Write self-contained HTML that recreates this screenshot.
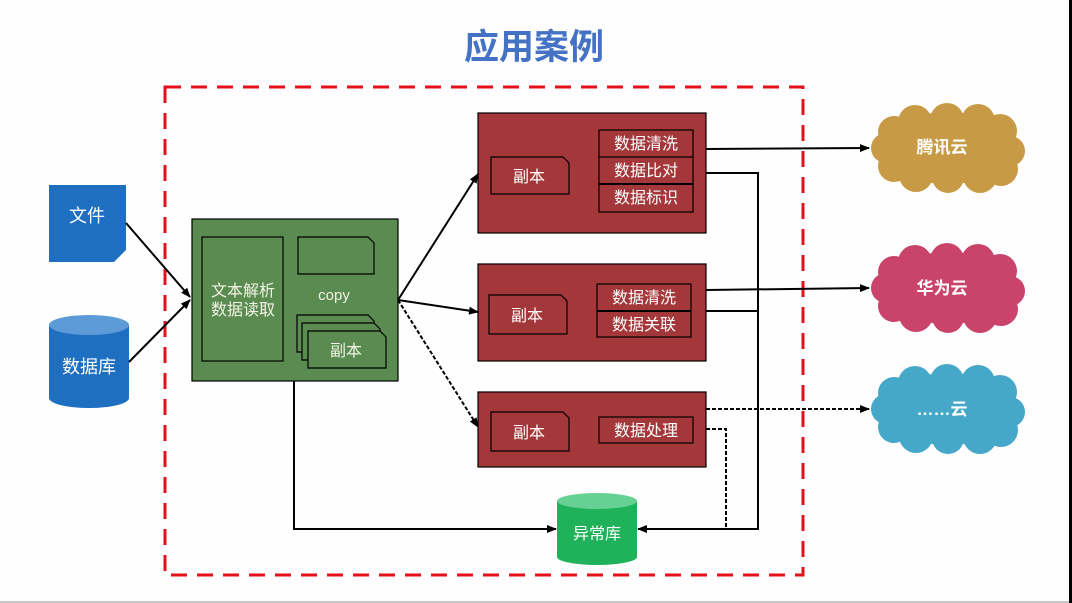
<!DOCTYPE html>
<html><head><meta charset="utf-8"><style>
html,body{margin:0;padding:0;background:#fff;}
svg{display:block;}
text{font-family:"Liberation Sans","Noto Sans CJK SC",sans-serif;}
</style></head><body>
<svg width="1072" height="603" viewBox="0 0 1072 603" xmlns="http://www.w3.org/2000/svg">
<defs>
<marker id="ah" markerUnits="userSpaceOnUse" markerWidth="10" markerHeight="8" refX="9" refY="4" orient="auto">
<path d="M0,0 L10,4 L0,8 Z" fill="#000"/>
</marker>
<g id="cloud">
<ellipse cx="78" cy="45" rx="68" ry="36"/>
<circle cx="45" cy="19" r="17"/>
<circle cx="77" cy="17" r="17"/>
<circle cx="108" cy="18" r="17"/>
<circle cx="130" cy="28" r="17"/>
<circle cx="140" cy="48" r="15"/>
<circle cx="131" cy="66" r="17"/>
<circle cx="110" cy="73" r="17"/>
<circle cx="78" cy="74" r="16"/>
<circle cx="46" cy="72" r="17"/>
<circle cx="24" cy="63" r="16"/>
<circle cx="16" cy="45" r="15"/>
<circle cx="24" cy="29" r="16"/>
</g>
</defs>
<rect x="0" y="0" width="1072" height="603" fill="#fefefe"/>
<rect x="1069" y="0" width="3" height="603" fill="#000"/>
<rect x="0" y="601" width="1069" height="2" fill="#c8c8c8"/>

<!-- title -->
<text x="534" y="59" text-anchor="middle" font-size="35" font-weight="bold" fill="#4472c4">应用案例</text>

<!-- red dashed box -->
<rect x="165" y="87" width="638" height="488" fill="none" stroke="#e3101c" stroke-width="3" stroke-dasharray="16 10"/>

<!-- file -->
<path d="M49,185 H126 V250 L114,262 H49 Z" fill="#1f6fc0"/>
<text x="87" y="222" text-anchor="middle" font-size="18" fill="#fff">文件</text>

<!-- database -->
<path d="M49,325 V398 A40,10 0 0 0 129,398 V325 Z" fill="#1f6fc0"/>
<ellipse cx="89" cy="325" rx="40" ry="10" fill="#5d9ad8"/>
<text x="89" y="373" text-anchor="middle" font-size="18" fill="#fff">数据库</text>

<!-- green box -->
<rect x="192" y="219" width="206" height="162" fill="#5a8b50" stroke="#000" stroke-width="1.2"/>
<rect x="202" y="237" width="81" height="124" fill="none" stroke="#000" stroke-width="1.2"/>
<text x="243" y="296" text-anchor="middle" font-size="16" fill="#f3f3e6">文本解析</text>
<text x="243" y="315" text-anchor="middle" font-size="16" fill="#f3f3e6">数据读取</text>
<path d="M298,237 H368 L374,243 V274 H298 Z" fill="none" stroke="#000" stroke-width="1.2"/>
<text x="334" y="300" text-anchor="middle" font-size="15" fill="#f3f3e6">copy</text>
<path d="M297,315 H368 L374,321 V352 H297 Z" fill="#5a8b50" stroke="#000" stroke-width="1.2"/>
<path d="M302,323 H374 L380,329 V360 H302 Z" fill="#5a8b50" stroke="#000" stroke-width="1.2"/>
<path d="M308,331 H380 L386,337 V368 H308 Z" fill="#5a8b50" stroke="#000" stroke-width="1.2"/>
<text x="346" y="356" text-anchor="middle" font-size="16" fill="#f3f3e6">副本</text>

<!-- red box 1 -->
<rect x="478" y="113" width="228" height="120" fill="#a4373a" stroke="#000" stroke-width="1.2"/>
<path d="M491,157 H563 L569,163 V194 H491 Z" fill="none" stroke="#000" stroke-width="1.2"/>
<text x="529" y="182" text-anchor="middle" font-size="16" fill="#fff">副本</text>
<rect x="599" y="130" width="94" height="82" fill="none" stroke="#000" stroke-width="1.2"/>
<line x1="599" y1="157" x2="693" y2="157" stroke="#000" stroke-width="1.2"/>
<line x1="599" y1="184" x2="693" y2="184" stroke="#000" stroke-width="2"/>
<text x="646" y="149" text-anchor="middle" font-size="16" fill="#fff">数据清洗</text>
<text x="646" y="176" text-anchor="middle" font-size="16" fill="#fff">数据比对</text>
<text x="646" y="203" text-anchor="middle" font-size="16" fill="#fff">数据标识</text>

<!-- red box 2 -->
<rect x="478" y="264" width="228" height="97" fill="#a4373a" stroke="#000" stroke-width="1.2"/>
<path d="M489,295 H561 L567,301 V334 H489 Z" fill="none" stroke="#000" stroke-width="1.2"/>
<text x="527" y="321" text-anchor="middle" font-size="16" fill="#fff">副本</text>
<rect x="597" y="284" width="94" height="53" fill="none" stroke="#000" stroke-width="1.2"/>
<line x1="597" y1="311" x2="691" y2="311" stroke="#000" stroke-width="2"/>
<text x="644" y="303" text-anchor="middle" font-size="16" fill="#fff">数据清洗</text>
<text x="644" y="330" text-anchor="middle" font-size="16" fill="#fff">数据关联</text>

<!-- red box 3 -->
<rect x="478" y="392" width="228" height="75" fill="#a4373a" stroke="#000" stroke-width="1.2"/>
<path d="M491,412 H563 L569,418 V451 H491 Z" fill="none" stroke="#000" stroke-width="1.2"/>
<text x="529" y="438" text-anchor="middle" font-size="16" fill="#fff">副本</text>
<rect x="599" y="417" width="94" height="26" fill="none" stroke="#000" stroke-width="1.2"/>
<text x="646" y="436" text-anchor="middle" font-size="16" fill="#fff">数据处理</text>

<!-- 异常库 -->
<path d="M557,501 V557 A40,8 0 0 0 637,557 V501 Z" fill="#1fb25a"/>
<ellipse cx="597" cy="501" rx="40" ry="8" fill="#66d193"/>
<text x="597" y="539" text-anchor="middle" font-size="16" fill="#fff">异常库</text>

<!-- clouds -->
<g transform="translate(870,103)" fill="#c99a45"><use href="#cloud"/></g>
<text x="942" y="153" text-anchor="middle" font-size="17" font-weight="bold" fill="#fff">腾讯云</text>
<g transform="translate(870,243)" fill="#c9436b"><use href="#cloud"/></g>
<text x="942" y="294" text-anchor="middle" font-size="17" font-weight="bold" fill="#fff">华为云</text>
<g transform="translate(870,364)" fill="#46a8c8"><use href="#cloud"/></g>
<text x="942" y="415" text-anchor="middle" font-size="17" font-weight="bold" fill="#fff">……云</text>

<!-- connectors -->
<g stroke="#000" stroke-width="2" fill="none">
<line x1="126" y1="223" x2="190" y2="297" marker-end="url(#ah)"/>
<line x1="129" y1="362" x2="190" y2="300" marker-end="url(#ah)"/>
<line x1="398" y1="300" x2="478" y2="174" marker-end="url(#ah)"/>
<line x1="398" y1="300" x2="478" y2="312" marker-end="url(#ah)"/>
<line x1="398" y1="300" x2="478" y2="427" stroke-dasharray="4 2" marker-end="url(#ah)"/>
<polyline points="294,381 294,529 556,529" marker-end="url(#ah)"/>
<line x1="706" y1="149" x2="869" y2="148" marker-end="url(#ah)"/>
<polyline points="706,173 758,173 758,529 638,529" marker-end="url(#ah)"/>
<line x1="706" y1="290" x2="869" y2="288" marker-end="url(#ah)"/>
<line x1="706" y1="311" x2="758" y2="311"/>
<line x1="706" y1="409" x2="869" y2="409" stroke-dasharray="4 2" marker-end="url(#ah)"/>
<polyline points="706,429 726,429 726,529" stroke-dasharray="4 2"/>
</g>
</svg>
</body></html>
